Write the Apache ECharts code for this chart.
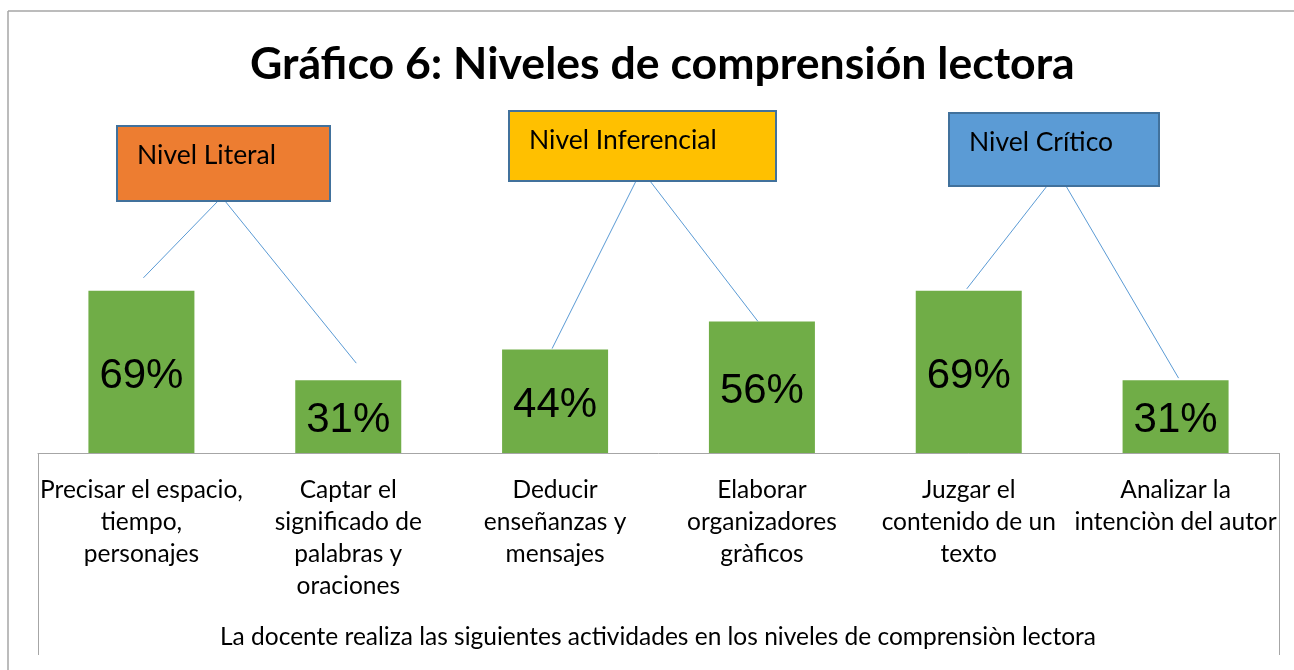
<!DOCTYPE html>
<html>
<head>
<meta charset="utf-8">
<script src="https://cdn.jsdelivr.net/npm/echarts@6/dist/echarts.min.js"></script>
<style>
  html, body { margin: 0; padding: 0; background: #ffffff; }
  #chart { width: 1294px; height: 670px; }
</style>
</head>
<body>
<div id="chart"></div>
<script>
// data
var categories = [
  'Precisar el espacio,\ntiempo,\npersonajes',
  'Captar el\nsignificado de\npalabras y\noraciones',
  'Deducir\nenseñanzas y\nmensajes',
  'Elaborar\norganizadores\ngràficos',
  'Juzgar el\ncontenido de un\ntexto',
  'Analizar la\nintenciòn del autor'
]
var percents = [69, 31, 44, 56, 69, 31]
var levels = ['Nivel Literal', 'Nivel Inferencial', 'Nivel Crítico']
var levelColors = ['#ED7D31', '#FFC000', '#5B9BD5']

var chart = echarts.init(document.getElementById('chart'))

var option = {
  backgroundColor: '#ffffff',
  animation: false,
  title: {
    text: 'Gráfico 6: Niveles de comprensión lectora',
    left: 245,
    top: 37,
    textStyle: {
      fontFamily: 'Lato',
      fontWeight: 'bold',
      fontSize: 44.6,
      color: '#000000'
    }
  },
  grid: {
    left: 38,
    right: 15,
    top: 218,
    bottom: 217
  },
  xAxis: {
    type: 'category',
    data: categories,
    axisLine: { lineStyle: { color: '#a6a6a6', width: 1 } },
    axisTick: { show: false },
    axisLabel: {
      interval: 0,
      margin: 21,
      fontFamily: 'Lato',
      fontSize: 24.5,
      lineHeight: 32,
      color: '#000000'
    }
  },
  yAxis: {
    type: 'value',
    min: 0,
    max: 100,
    show: false,
    splitLine: { show: false }
  },
  series: [{
    type: 'bar',
    data: percents,
    barWidth: 106,
    itemStyle: { color: '#70AD47' },
    label: {
      show: true,
      position: 'inside',
      offset: [0, 4],
      formatter: '{c}%',
      fontFamily: 'Liberation Sans',
      fontSize: 42,
      color: '#000000'
    }
  }],
  graphic: []
}

chart.setOption(option)

// level boxes and connector lines
var boxes = [
  { x: 117, y: 126, w: 213, h: 75, from: [[218, 201], [225, 201]] },
  { x: 509, y: 111, w: 267, h: 70, from: [[636, 181], [650, 181]] },
  { x: 949, y: 113, w: 210, h: 73, from: [[1047, 186], [1066, 186]] }
]
var lineGaps = [13, 17, 1, 0, 2, 2]
var lineShift = [2, 8, -3, -4, -2, 3]

var graphics = []

// outer frame (top and left edges)
graphics.push({ type: 'line', shape: { x1: 8, y1: 11, x2: 1294, y2: 11 }, style: { stroke: '#a6a6a6', lineWidth: 1.5 } })
graphics.push({ type: 'line', shape: { x1: 8, y1: 11, x2: 8, y2: 670 }, style: { stroke: '#a6a6a6', lineWidth: 1.5 } })

// category area sides
graphics.push({ type: 'line', shape: { x1: 38.5, y1: 453, x2: 38.5, y2: 655 }, style: { stroke: '#a6a6a6', lineWidth: 1 } })
graphics.push({ type: 'line', shape: { x1: 1279.5, y1: 453, x2: 1279.5, y2: 655 }, style: { stroke: '#a6a6a6', lineWidth: 1 } })

boxes.forEach(function (b, i) {
  graphics.push({
    type: 'rect',
    shape: { x: b.x, y: b.y, width: b.w, height: b.h },
    style: { fill: levelColors[i], stroke: '#41719C', lineWidth: 2 },
    z: 10
  })
  graphics.push({
    type: 'text',
    x: b.x + 20,
    y: b.y + 29,
    style: {
      text: levels[i],
      fontFamily: 'Lato',
      fontSize: 26.5,
      fill: '#000000',
      verticalAlign: 'middle'
    },
    z: 11
  })
  for (var k = 0; k < 2; k++) {
    var idx = i * 2 + k
    var top = chart.convertToPixel({ seriesIndex: 0 }, [idx, percents[idx]])
    graphics.push({
      type: 'line',
      shape: {
        x1: b.from[k][0], y1: b.from[k][1],
        x2: top[0] + lineShift[idx], y2: top[1] - lineGaps[idx]
      },
      style: { stroke: '#5B9BD5', lineWidth: 1 },
      z: 5
    })
  }
})

graphics.push({
  type: 'text',
  x: 658,
  y: 637,
  style: {
    text: 'La docente realiza las siguientes actividades en los niveles de comprensiòn lectora',
    fontFamily: 'Lato',
    fontSize: 24.5,
    fill: '#000000',
    align: 'center',
    verticalAlign: 'middle'
  }
})

chart.setOption({ graphic: graphics })
</script>
</body>
</html>
